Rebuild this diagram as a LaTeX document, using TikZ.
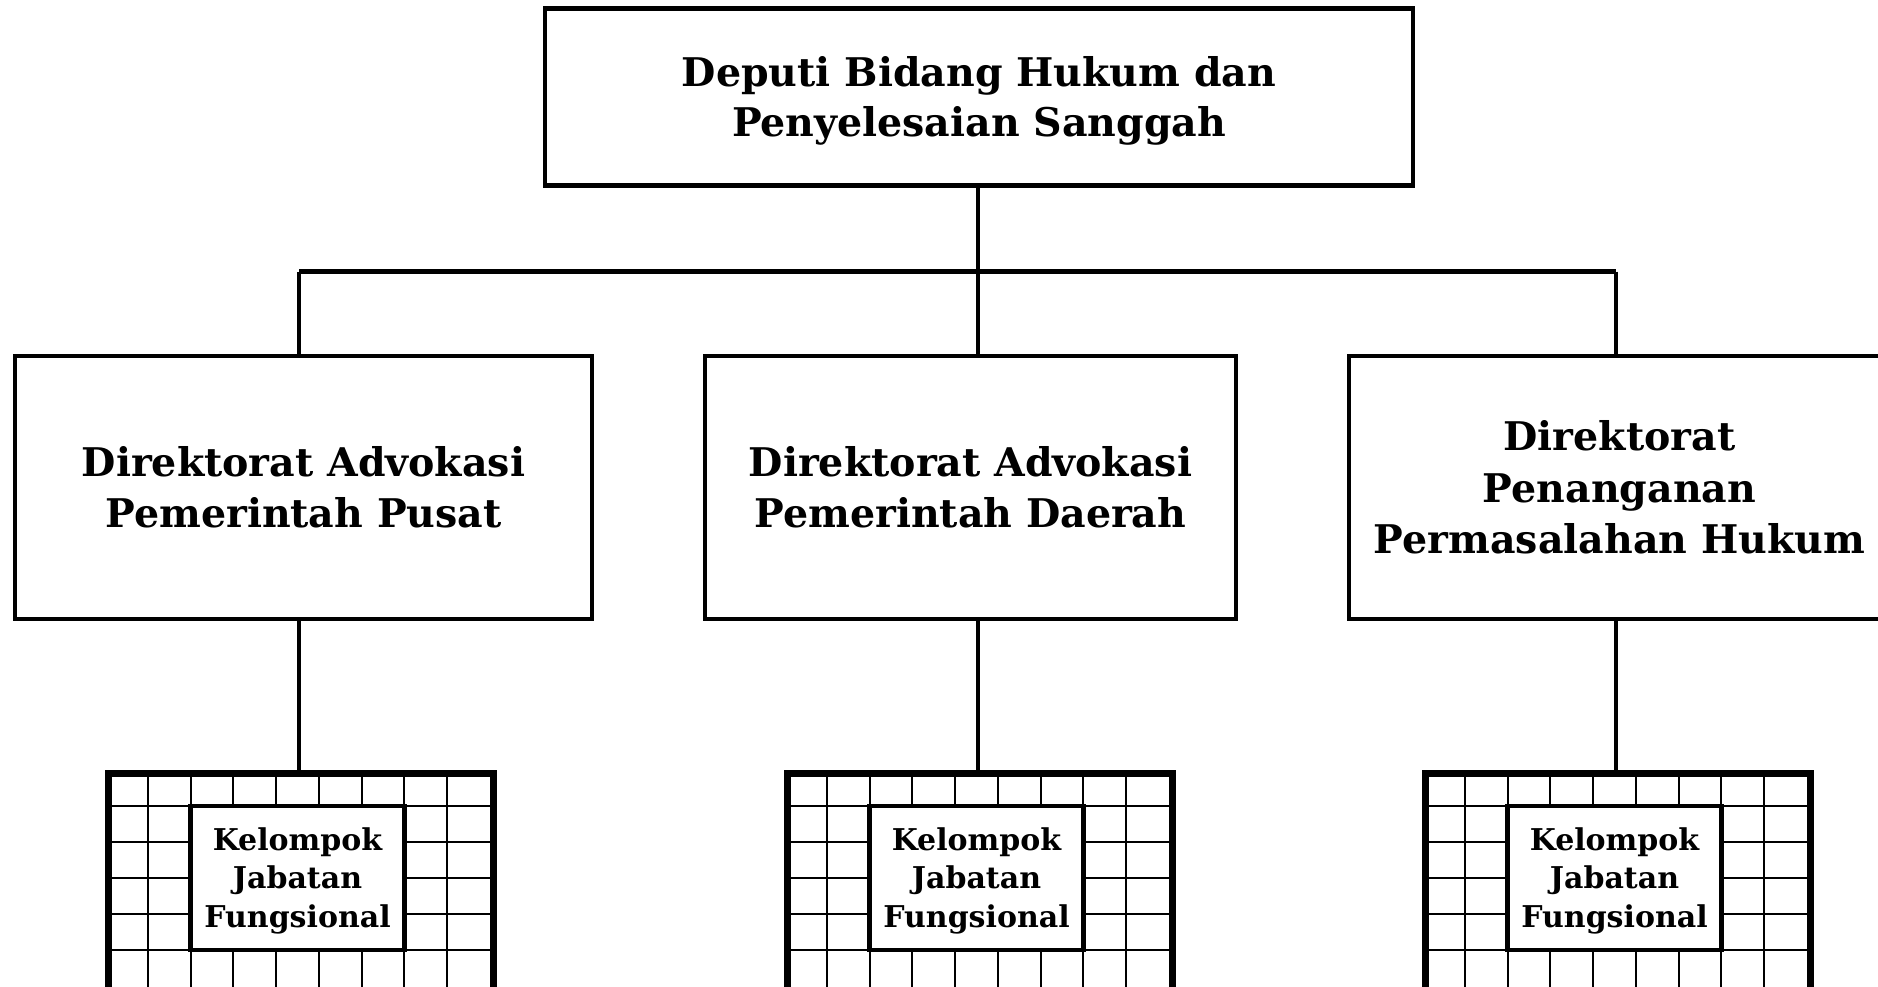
\documentclass[tikz,border=0pt]{standalone}
\usepackage{fontspec}
\setmainfont{DejaVu Serif}
\tikzset{
  orgbox/.style={draw=black, line width=4.8pt, fill=white, align=center, inner sep=0pt,
    font=\fontsize{39.5}{51.5}\selectfont\bfseries},
  conn/.style={draw=black, line width=4.8pt},
  gridln/.style={draw=black, line width=2pt},
  outerbox/.style={draw=black, line width=7pt, inner sep=0pt},
  innerbox/.style={draw=black, line width=4.5pt, fill=white, align=center, inner sep=0pt,
    minimum width=214pt, minimum height=144pt,
    font=\fontsize{30}{38.5}\selectfont\bfseries},
}
\newcommand\kjfbox[2]{%
  \foreach \i in {1,...,8} \draw[gridln] (#2+\i*42.78,770) -- (#2+\i*42.78,992);
  \foreach \j in {1,...,5} \draw[gridln] (#2,770+\j*36) -- (#2+385,770+\j*36);
  \node[outerbox, minimum width=385pt, minimum height=222pt, anchor=north west] (#1) at (#2,770) {};
  \node[innerbox] (#1i) at (#2+192.5,878)
    {\raisebox{-3pt}[\height][\depth]{\begin{tabular}{@{}c@{}}Kelompok\\Jabatan\\Fungsional\end{tabular}}};
}
\begin{document}
\begin{tikzpicture}[x=1pt,y=-1pt]
\useasboundingbox (0,0) rectangle (1878,986);
\clip (0,0) rectangle (1878,986);
\fill[white] (0,0) rectangle (1878,986);
% top
\node[orgbox, minimum width=868pt, minimum height=177pt, font=\fontsize{39.5}{50}\selectfont\bfseries] (top) at (979,97)
  {\raisebox{-4.5pt}[\height][\depth]{\begin{tabular}{@{}c@{}}Deputi Bidang Hukum dan\\Penyelesaian Sanggah\end{tabular}}};
% level 2
\node[orgbox, minimum width=577pt, minimum height=263pt] (b1) at (303.5,487.5)
  {Direktorat Advokasi\\Pemerintah Pusat};
\node[orgbox, minimum width=531pt, minimum height=263pt] (b2) at (970.5,487.5)
  {Direktorat Advokasi\\Pemerintah Daerah};
\node[orgbox, minimum width=541pt, minimum height=263pt] (b3) at (1619.5,487.5)
  {Direktorat\\Penanganan\\Permasalahan Hukum};
% junction coordinates
\coordinate (hub) at (978,271.5);
\coordinate (lj) at (299,271.5);
\coordinate (rj) at (1616,271.5);
% level 3
\kjfbox{g1}{105}
\kjfbox{g2}{784}
\kjfbox{g3}{1422}
% connectors
\draw[conn] (top.south -| hub) -- (hub);
\draw[conn] (lj) -- (rj);
\draw[conn] (lj) -- (lj |- b1.north);
\draw[conn] (hub) -- (hub |- b2.north);
\draw[conn] (rj) -- (rj |- b3.north);
\draw[conn] (lj |- b1.south) -- (lj |- g1.north);
\draw[conn] (hub |- b2.south) -- (hub |- g2.north);
\draw[conn] (rj |- b3.south) -- (rj |- g3.north);
\end{tikzpicture}
\end{document}
